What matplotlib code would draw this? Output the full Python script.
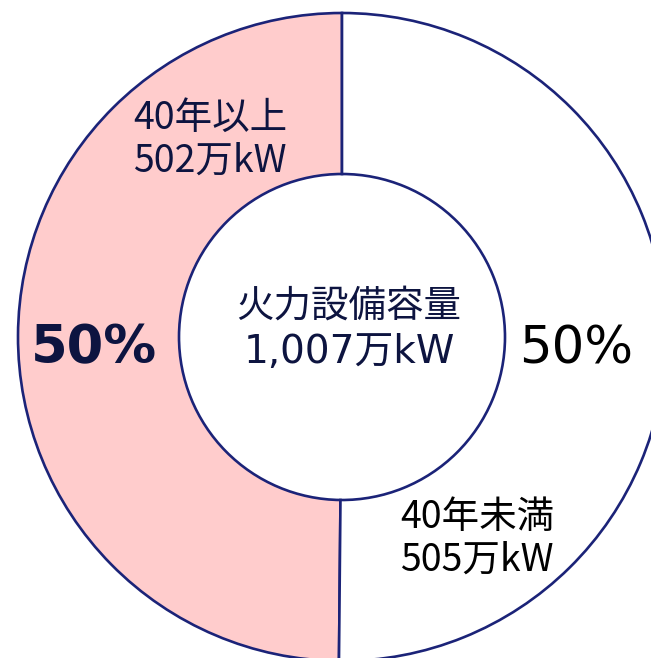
"""Donut chart: thermal capacity split by plant age."""

import matplotlib.pyplot as plt

# Data
labels = ["40年以上", "40年未満"]
capacity = [502, 505]  # 万kW
total_label = "1,007万kW"
pct_labels = ["50%", "50%"]

plt.rcParams["font.family"] = ["Noto Sans CJK JP", "DejaVu Sans"]

NAVY = "#1B2378"
INK = "#0D1440"

fig = plt.figure(figsize=(6.51, 6.58), dpi=100)
ax = fig.add_axes([0, 0, 1, 1])

# y axis is flipped below, so "clockwise" here draws counterclockwise on screen:
# the pink wedge runs from the top down the left side
ax.pie(
    capacity,
    colors=["#FFCCCC", "white"],
    startangle=-90,
    counterclock=False,
    center=(342, 337),
    radius=324,
    wedgeprops=dict(width=161, edgecolor=NAVY, linewidth=1.9),
    frame=True,
)
ax.set_xlim(0, 651)
ax.set_ylim(658, 0)
ax.set_aspect("equal")
ax.axis("off")

# segment labels
ax.text(210, 140, f"{labels[0]}\n{capacity[0]}万kW", ha="center", va="center",
        fontsize=27, color=INK, linespacing=1.12)
ax.text(477, 539, f"{labels[1]}\n{capacity[1]}万kW", ha="center", va="center",
        fontsize=27, color="black", linespacing=1.12)

# percentages
ax.text(94, 348, pct_labels[0], ha="center", va="center", fontsize=38,
        fontweight="bold", color=INK, family="DejaVu Sans")
ax.text(576, 350, pct_labels[1], ha="center", va="center", fontsize=37,
        color="black", family="DejaVu Sans")

# centre text
ax.text(349, 307, "火力設備容量", ha="center", va="center",
        fontsize=27, color=INK, family=["DejaVu Sans", "Noto Sans CJK JP"])
ax.text(349, 352, total_label, ha="center", va="center",
        fontsize=28, color=INK, family=["DejaVu Sans", "Noto Sans CJK JP"])

fig.savefig("out.png", dpi=100)
